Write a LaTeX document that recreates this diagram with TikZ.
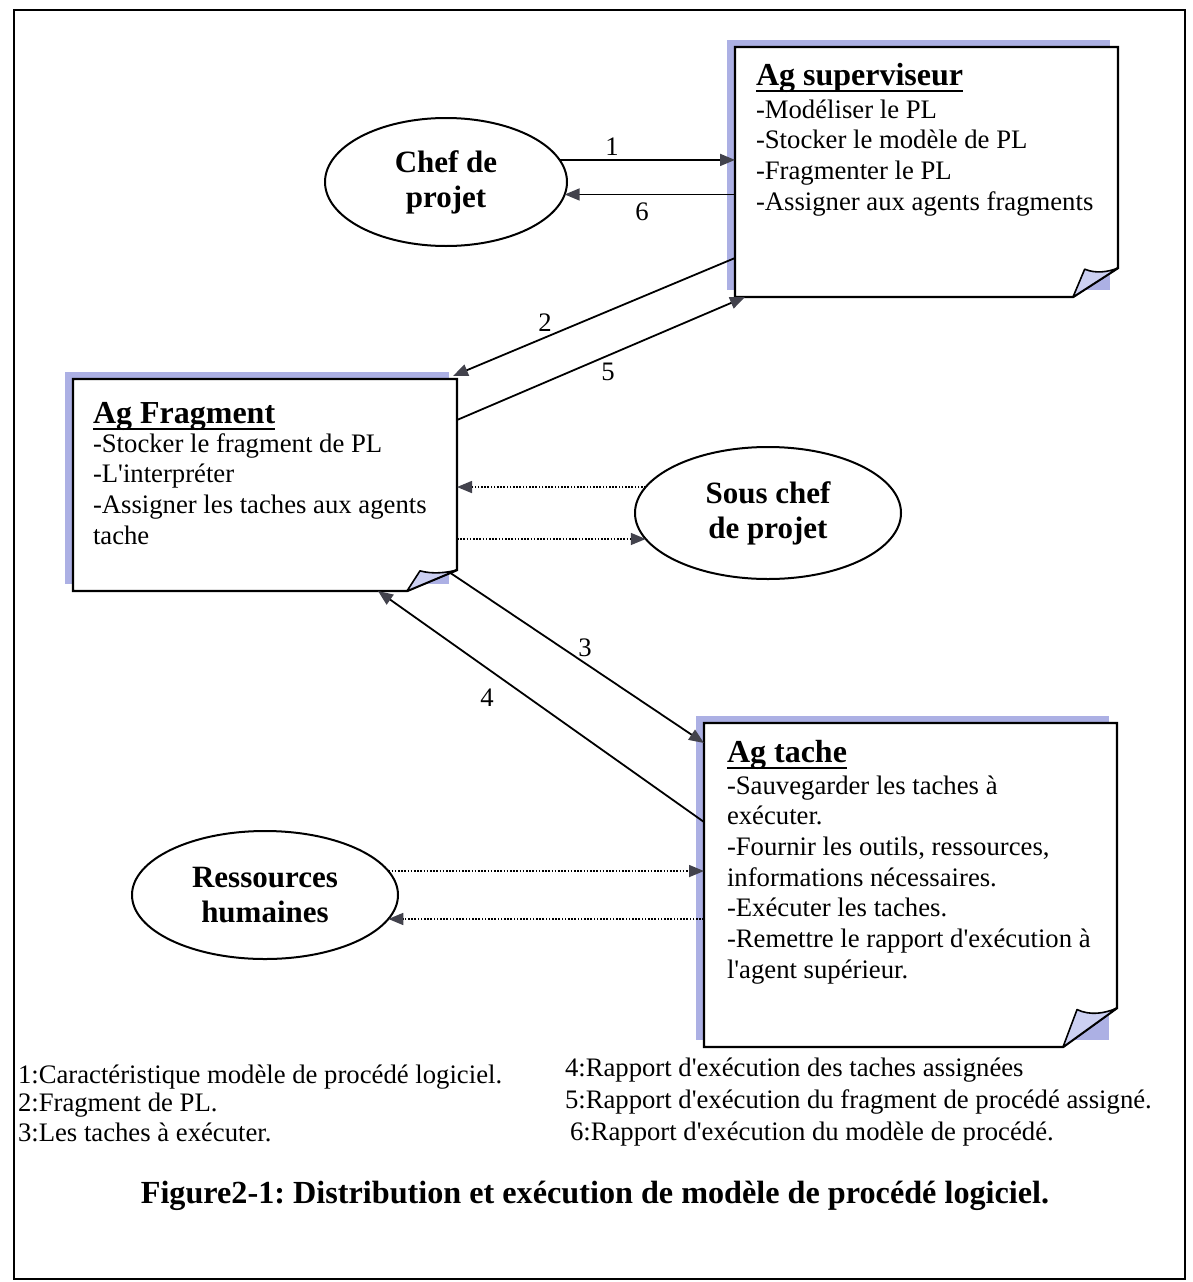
\documentclass[tikz,border=0pt]{standalone}
\usepackage{fontspec}
\setmainfont{Liberation Serif}[Ligatures=TeXOff]
\usetikzlibrary{arrows.meta,shapes.geometric}
\definecolor{shadowcol}{RGB}{172,176,228}
\definecolor{flapcol}{RGB}{204,208,242}
\definecolor{tipgray}{RGB}{66,66,76}
\newcommand\bodyfont{\fontsize{26.7}{30.7}\selectfont}
\newcommand\titlefont{\fontsize{32}{35}\selectfont\bfseries}
\newcommand\capfont{\fontsize{32.2}{35}\selectfont\bfseries}
\newcommand\linesbox[1]{\vtop{\baselineskip=30.7pt\lineskiplimit=-20pt #1}}
\frenchspacing
\tikzset{
  boxnode/.style={rectangle, draw=none, inner sep=0pt, outer sep=0pt},
  boxline/.style={line width=2.4pt, line join=miter},
  flapline/.style={line width=1.6pt, line join=round},
  txt/.style={inner sep=0pt, outer sep=0pt},
  ell/.style={ellipse, draw, line width=2pt, inner sep=0pt, outer sep=0pt, align=center,
              font=\fontsize{31}{35}\selectfont\bfseries},
  arr/.style={line width=1.8pt, -{Triangle[length=15pt,width=12pt,color=tipgray]}},
  darr/.style={line width=1.6pt, dash pattern=on 1.6pt off 1.6pt,
               -{Triangle[length=15pt,width=12pt,color=tipgray]}},
  ulin/.style={line width=2.8pt},
}
% name, x1, y1, x2, y2, fold-x, fold-y
\newcommand\NoteBox[7]{%
  \fill[shadowcol] ({#2-8},{#3-7}) rectangle ({#4-8},{#5-7});
  \node[boxnode, minimum width={#4-#2}, minimum height={#5-#3}, anchor=north west] (#1) at (#2,#3) {};
  \draw[boxline, fill=white] (#2,#3) -- (#4,#3) -- (#4,{#5-#7}) -- ({#4-#6},#5) -- (#2,#5) -- cycle;
  \draw[flapline, fill=flapcol] ({#4-#6},#5) -- ({#4-0.74*#6},{#5-0.96*#7})
     .. controls ({#4-0.5*#6},{#5-0.8*#7}) and ({#4-0.22*#6},{#5-0.86*#7}) .. (#4,{#5-#7}) -- cycle;
}
\begin{document}
\begin{tikzpicture}[x=1pt,y=-1pt]
\useasboundingbox (0,0) rectangle (1193,1282);
% outer frame
\node[boxnode, draw, line width=2.4pt, minimum width=1171pt, minimum height=1269pt, anchor=north west] (frame) at (14,10) {};

% note boxes
\NoteBox{sup}{735}{47}{1118}{297}{45}{29}
\NoteBox{frag}{73}{379}{457}{591}{50}{21}
\NoteBox{tache}{704}{723}{1117}{1047}{54}{39}

% box texts
\node[txt, anchor=base west] (supT) at (756,85) {\titlefont Ag superviseur};
\draw[ulin] ([yshift=-6pt]supT.base west) -- ([yshift=-6pt]supT.base east);
\node[txt, anchor=base west] (supB) at (756,118) {\bodyfont\linesbox{%
  \hbox{-Modéliser le PL}\hbox{-Stocker le modèle de PL}\hbox{-Fragmenter le PL}%
  \hbox{-Assigner aux agents fragments}}};

\node[txt, anchor=base west] (fragT) at (93,423) {\titlefont Ag Fragment};
\draw[ulin] ([yshift=-6pt]fragT.base west) -- ([yshift=-6pt]fragT.base east);
\node[txt, anchor=base west] (fragB) at (93,452) {\bodyfont\linesbox{%
  \hbox{-Stocker le fragment de PL}\hbox{-L'interpréter}%
  \hbox{-Assigner les taches aux agents}\hbox{tache}}};

\node[txt, anchor=base west] (tacheT) at (727,762) {\titlefont Ag tache};
\draw[ulin] ([yshift=-6pt]tacheT.base west) -- ([yshift=-6pt]tacheT.base east);
\node[txt, anchor=base west] (tacheB) at (727,794) {\bodyfont\linesbox{%
  \hbox{-Sauvegarder les taches à}\hbox{exécuter.}%
  \hbox{-Fournir les outils, ressources,}\hbox{informations nécessaires.}%
  \hbox{-Exécuter les taches.}\hbox{-Remettre le rapport d'exécution à}%
  \hbox{l'agent supérieur.}}};

% ellipses
\node[ell, minimum width=242pt, minimum height=128pt] (chef) at (446,182) {Chef de\\projet};
\node[ell, minimum width=266pt, minimum height=132pt] (sous) at (768,513) {Sous chef\\de projet};
\node[ell, minimum width=266pt, minimum height=128pt] (res) at (265,895) {Ressources\\humaines};

% solid connectors
\draw[arr] (chef.11) -- (chef.11 -| sup.west);
\draw[arr] (chef.-6 -| sup.west) -- (chef.-6);
\draw[arr] ([yshift=39pt]sup.south west) -- ([xshift=-4pt,yshift=3pt]frag.north east);
\draw[arr] ([yshift=-41pt]frag.north east) -- ([xshift=10pt]sup.south west);
\draw[arr] ([xshift=-8pt,yshift=19pt]frag.south east) -- ([yshift=-20pt]tache.north west);
\draw[arr] ([yshift=-99pt]tache.north west) -- ([xshift=-79pt]frag.south east);

% dotted connectors
\draw[darr] (sous.168) -- (sous.168 -| frag.east);
\draw[darr] (sous.-168 -| frag.east) -- (sous.-168);
\draw[darr] (res.11) -- (res.11 -| tache.west);
\draw[darr] (res.-11 -| tache.west) -- (res.-11);

% connector numbers
\node[txt, font=\bodyfont] (n1) at (612,147) {1};
\node[txt, font=\bodyfont] (n6) at (642,212) {6};
\node[txt, font=\bodyfont] (n2) at (545,323) {2};
\node[txt, font=\bodyfont] (n5) at (608,372) {5};
\node[txt, font=\bodyfont] (n3) at (585,648) {3};
\node[txt, font=\bodyfont] (n4) at (487,698) {4};

% legend
\node[txt, anchor=base west, font=\bodyfont] (l1) at (18,1083) {1:Caractéristique modèle de procédé logiciel.};
\node[txt, anchor=base west, font=\bodyfont] (l2) at (18,1111) {2:Fragment de PL.};
\node[txt, anchor=base west, font=\bodyfont] (l3) at (18,1141) {3:Les taches à exécuter.};
\node[txt, anchor=base west, font=\bodyfont] (l4) at (565,1076) {4:Rapport d'exécution des taches assignées};
\node[txt, anchor=base west, font=\bodyfont] (l5) at (565,1108) {5:Rapport d'exécution du fragment de procédé assigné.};
\node[txt, anchor=base west, font=\bodyfont] (l6) at (570,1140) {6:Rapport d'exécution du modèle de procédé.};

% caption
\node[txt, anchor=base, font=\capfont] (cap) at (595,1203) {Figure2-1: Distribution et exécution de modèle de procédé logiciel.};
\end{tikzpicture}
\end{document}
